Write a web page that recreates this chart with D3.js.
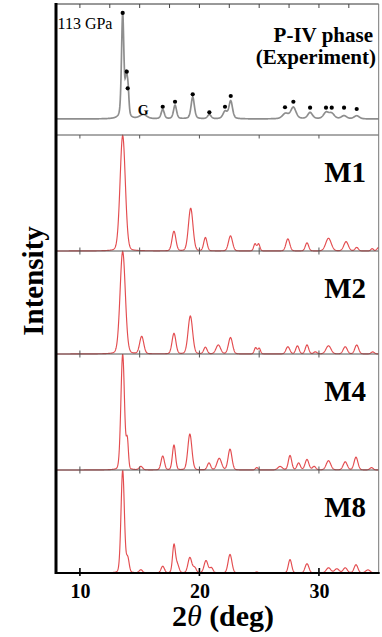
<!DOCTYPE html>
<html><head><meta charset="utf-8">
<script src="https://cdn.jsdelivr.net/npm/d3@7"></script>
<style>body{margin:0;background:#fff}svg{display:block}</style>
</head><body>
<script>
// ---- data (2θ in deg, relative intensity, peak width in deg) ----
const xTicksMajor = [10, 20, 30];
const xTicksPanel = [10, 15, 20, 25, 30];
const xTicksExp = [10, 12.5, 15, 17.5, 20, 22.5, 25, 27.5, 30, 32.5];
const panelNames = ["M1", "M2", "M4", "M8"];
const expPeaks = [
  [13.58, 1.0, 0.1], [13.88, 0.36, 0.09], [14.03, 0.22, 0.08], [15.3, 0.04, 0.3],
  [16.93, 0.09, 0.13], [17.96, 0.13, 0.13], [19.44, 0.21, 0.14], [20.83, 0.04, 0.15],
  [22.15, 0.07, 0.18], [22.62, 0.17, 0.15], [27.2, 0.05, 0.25], [27.86, 0.11, 0.22],
  [29.26, 0.06, 0.2], [30.6, 0.06, 0.22], [31.07, 0.05, 0.22], [32.1, 0.03, 0.22], [33.16, 0.03, 0.22]
];
const expDots = [
  [13.58, 1.02], [13.92, 0.455], [14.0, 0.295], [16.93, 0.118], [17.96, 0.166],
  [19.44, 0.237], [20.83, 0.064], [22.14, 0.118], [22.62, 0.221], [27.16, 0.113],
  [27.86, 0.166], [29.26, 0.109], [30.59, 0.109], [31.07, 0.109], [32.1, 0.109], [33.16, 0.096]
];
const m1Peaks = [
  [13.58, 1.0, 0.22], [17.87, 0.17, 0.16], [19.27, 0.37, 0.19], [20.5, 0.115, 0.14],
  [22.6, 0.13, 0.17], [24.65, 0.06, 0.11], [24.95, 0.06, 0.11], [27.4, 0.105, 0.16],
  [29.0, 0.07, 0.14], [30.8, 0.11, 0.23], [32.27, 0.08, 0.19], [33.16, 0.03, 0.14],
  [34.45, 0.02, 0.11], [35.0, 0.03, 0.14]
];
const m2Peaks = [
  [13.58, 1.0, 0.22], [15.17, 0.17, 0.17], [17.87, 0.2, 0.16], [19.24, 0.37, 0.19],
  [20.5, 0.065, 0.14], [21.58, 0.087, 0.19], [22.6, 0.16, 0.17], [24.7, 0.06, 0.11],
  [25.0, 0.055, 0.11], [27.4, 0.07, 0.16], [28.2, 0.078, 0.14], [29.0, 0.087, 0.14],
  [29.7, 0.02, 0.14], [30.8, 0.08, 0.21], [32.2, 0.07, 0.17], [33.16, 0.087, 0.16], [34.5, 0.02, 0.14]
];
const m4Peaks = [
  [13.58, 1.0, 0.15], [13.97, 0.24, 0.09], [15.1, 0.03, 0.14], [16.93, 0.12, 0.14],
  [17.87, 0.215, 0.13], [19.2, 0.31, 0.17], [20.8, 0.06, 0.14], [21.66, 0.1, 0.19],
  [22.56, 0.18, 0.16], [24.8, 0.02, 0.11], [26.75, 0.03, 0.19], [27.58, 0.125, 0.14],
  [28.3, 0.06, 0.14], [29.0, 0.09, 0.16], [29.6, 0.03, 0.14], [30.8, 0.08, 0.19],
  [32.2, 0.07, 0.17], [33.1, 0.11, 0.16], [34.4, 0.02, 0.14]
];
const m8Peaks = [
  [13.58, 1.0, 0.14], [14.0, 0.14, 0.12], [15.1, 0.03, 0.14], [16.93, 0.065, 0.14],
  [17.87, 0.27, 0.12], [18.15, 0.08, 0.14], [19.2, 0.15, 0.16], [19.6, 0.05, 0.14],
  [20.55, 0.12, 0.16], [21.0, 0.05, 0.14], [22.56, 0.18, 0.16], [24.8, 0.01, 0.11],
  [27.58, 0.13, 0.14], [29.0, 0.09, 0.16], [30.8, 0.05, 0.19], [31.5, 0.04, 0.19],
  [32.2, 0.05, 0.17], [33.1, 0.08, 0.16], [34.1, 0.03, 0.19]
];
const simPeaks = [m1Peaks, m2Peaks, m4Peaks, m8Peaks];

// ---- layout ----
const W = 382, H = 637;
const left = 56, right = 378.7, bottom = 573;
const panelTops = [4, 135, 251, 354, 470];
const expBase = 119, expTop = 15;
const serif = "'Liberation Serif','Times New Roman',Times,serif";

const svg = d3.select("body").append("svg").attr("width", W).attr("height", H);
const x = d3.scaleLinear().domain([8, 35]).range([left, right]);
const grid = d3.range(8, 35.001, 0.02);

function profile(peaks, eta) {
  return grid.map(t => {
    let s = 0;
    for (const [p, h, w] of peaks) {
      const d = (t - p) / w;
      s += h * ((1 - eta) * Math.exp(-0.5 * d * d) + eta / (1 + d * d / 1.386));
    }
    return [t, s];
  });
}

// ---- experimental panel ----
const yExp = d3.scaleLinear().domain([0, 1]).range([expBase, expTop]);
svg.append("path")
  .datum(profile(expPeaks, 0.4))
  .attr("fill", "none").attr("stroke", "#8e8e8e").attr("stroke-width", 1.7)
  .attr("d", d3.line().x(d => x(d[0])).y(d => yExp(d[1])));
svg.selectAll("circle.dot").data(expDots).join("circle")
  .attr("class", "dot").attr("cx", d => x(d[0])).attr("cy", d => yExp(d[1]))
  .attr("r", 2.1).attr("fill", "#000");
svg.append("text").attr("x", x(15.3)).attr("y", yExp(0.04)).attr("text-anchor", "middle")
  .attr("font-family", serif).attr("font-weight", "bold").attr("font-size", 14).text("G");
svg.append("text").attr("x", left + 1.5).attr("y", 29)
  .attr("font-family", serif).attr("font-size", 16).text("113 GPa");
svg.append("text").attr("x", 373).attr("y", 42).attr("text-anchor", "end")
  .attr("font-family", serif).attr("font-weight", "bold").attr("font-size", 21).text("P-IV phase");
svg.append("text").attr("x", 376).attr("y", 64).attr("text-anchor", "end")
  .attr("font-family", serif).attr("font-weight", "bold").attr("font-size", 21).text("(Experiment)");

// top border + ticks of experimental panel
svg.append("line").attr("x1", left).attr("x2", right).attr("y1", panelTops[0]).attr("y2", panelTops[0])
  .attr("stroke", "#333").attr("stroke-width", 1);
svg.selectAll("line.etick").data(xTicksExp).join("line").attr("class", "etick")
  .attr("x1", d => x(d)).attr("x2", d => x(d)).attr("y1", panelTops[0]).attr("y2", panelTops[0] + 4)
  .attr("stroke", "#444").attr("stroke-width", 1);

// ---- simulated panels ----
simPeaks.forEach((peaks, i) => {
  const top = panelTops[i + 1];
  const bot = i < 3 ? panelTops[i + 2] : bottom;
  const y = d3.scaleLinear().domain([0, 1]).range([bot, top + 0.5]);
  svg.append("path")
    .datum(profile(peaks, 0.12))
    .attr("fill", "none").attr("stroke", "#e0383c").attr("stroke-width", 1.15).attr("stroke-opacity", 0.9)
    .attr("d", d3.line().x(d => x(d[0])).y(d => y(d[1])));
  svg.append("text").attr("x", 366).attr("y", top + 47).attr("text-anchor", "end")
    .attr("font-family", serif).attr("font-weight", "bold").attr("font-size", 29).text(panelNames[i]);
  svg.append("line").attr("x1", left).attr("x2", right).attr("y1", top).attr("y2", top)
    .attr("stroke", "#555").attr("stroke-width", 1);
  svg.selectAll("line.tt" + i).data(xTicksPanel).join("line")
    .attr("x1", d => x(d)).attr("x2", d => x(d)).attr("y1", top).attr("y2", top + 3.5)
    .attr("stroke", "#555").attr("stroke-width", 1);
  if (i < 3) {
    svg.selectAll("line.tb" + i).data(xTicksPanel).join("line")
      .attr("x1", d => x(d)).attr("x2", d => x(d)).attr("y1", bot).attr("y2", bot - 3.5)
      .attr("stroke", "#555").attr("stroke-width", 1);
  }
});

// right border
svg.append("line").attr("x1", right).attr("x2", right).attr("y1", panelTops[0]).attr("y2", bottom)
  .attr("stroke", "#777").attr("stroke-width", 1);

// ---- bottom axis ----
const xAxis = d3.axisBottom(x).tickValues(xTicksMajor).tickSize(0).tickFormat(d3.format("d"));
const gx = svg.append("g").attr("transform", `translate(0,${bottom})`).call(xAxis)
  .attr("font-family", serif).attr("font-size", 20);
gx.select(".domain").remove();
gx.selectAll("text").attr("font-family", serif).attr("font-weight", "bold").attr("font-size", 20)
  .attr("fill", "#000").attr("dy", "1.0em").attr("y", 5);
svg.append("line").attr("x1", left).attr("x2", right + 1).attr("y1", bottom).attr("y2", bottom)
  .attr("stroke", "#000").attr("stroke-width", 2.2);
svg.selectAll("line.btick").data(xTicksMajor).join("line").attr("class", "btick")
  .attr("x1", d => x(d)).attr("x2", d => x(d)).attr("y1", bottom - 5).attr("y2", bottom + 3)
  .attr("stroke", "#000").attr("stroke-width", 1.6);

// left axis line
svg.append("line").attr("x1", left).attr("x2", left).attr("y1", panelTops[0] - 1).attr("y2", bottom + 1)
  .attr("stroke", "#000").attr("stroke-width", 3);

// axis titles
const xt = svg.append("text").attr("x", 223).attr("y", 626).attr("text-anchor", "middle")
  .attr("font-family", serif).attr("font-weight", "bold").attr("font-size", 30);
xt.append("tspan").text("2");
xt.append("tspan").attr("font-style", "italic").attr("font-weight", "normal").text("θ");
xt.append("tspan").text(" (deg)");
svg.append("text").attr("transform", "translate(43,281) rotate(-90)").attr("text-anchor", "middle")
  .attr("font-family", serif).attr("font-weight", "bold").attr("font-size", 29).text("Intensity");
</script>
</body></html>
